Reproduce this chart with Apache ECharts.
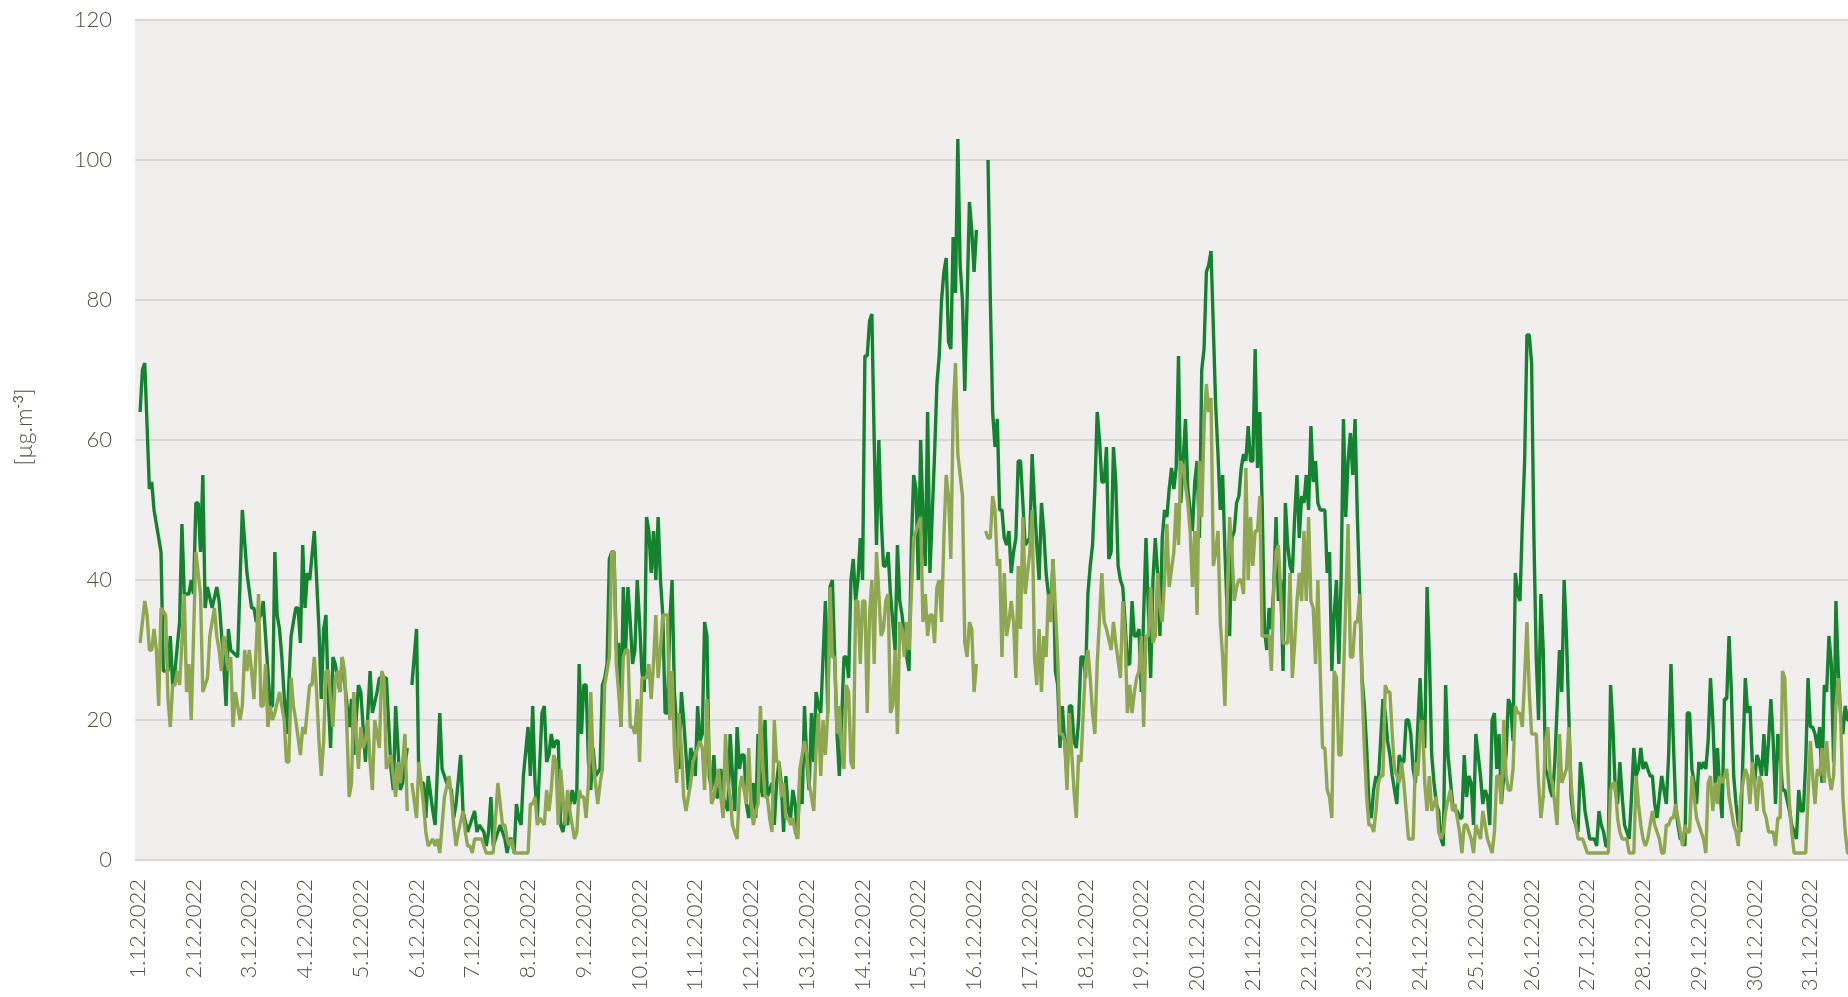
<!DOCTYPE html>
<html><head><meta charset="utf-8">
<script src="https://cdn.jsdelivr.net/npm/echarts@6/dist/echarts.min.js"></script>
<style>html,body{margin:0;padding:0;background:#fff;}#chart{width:1848px;height:997px;}</style>
</head><body><div id="chart"></div>
<script>
// Day tick labels (one per day, at hour 0 of each day)
const dayLabels = ['1.12.2022','2.12.2022','3.12.2022','4.12.2022','5.12.2022','6.12.2022','7.12.2022','8.12.2022','9.12.2022','10.12.2022','11.12.2022','12.12.2022','13.12.2022','14.12.2022','15.12.2022','16.12.2022','17.12.2022','18.12.2022','19.12.2022','20.12.2022','21.12.2022','22.12.2022','23.12.2022','24.12.2022','25.12.2022','26.12.2022','27.12.2022','28.12.2022','29.12.2022','30.12.2022','31.12.2022'];
const yTicks = [0, 20, 40, 60, 80, 100, 120];
const yTitle = '[µg.m{sup|-3}]';

// [hour since 1.12.2022 00:00, value]  (null = gap in the record)
const darkGreen = [[1,64],[2,70],[3,71],[5,53],[6,54],[7,50],[8,48],[10,44],[11,27],[13,27],[14,32],[15,25],[16,27],[18,34],[19,48],[20,38],[22,38],[23,40],[24,38],[25,51],[26,51],[27,44],[28,55],[29,36],[30,39],[32,36],[34,39],[35,37],[37,28],[38,22],[39,33],[40,30],[43,29],[45,50],[47,41],[49,36],[50,36],[51,34],[53,35],[54,37],[57,22],[58,22],[59,44],[60,35],[61,33],[62,29],[64,18],[66,32],[68,36],[69,36],[70,31],[71,45],[72,36],[73,41],[74,40],
[76,47],[77,40],[78,33],[79,23],[80,33],[81,35],[82,23],[83,16],[84,29],[85,28],[87,24],[88,29],[91,19],[92,23],[93,15],[95,25],[96,24],[98,14],[100,27],[101,21],[103,24],[104,26],[107,26],[109,13],[110,10],[111,22],[113,10],[114,11],[116,16],[117,null],[118,25],[120,33],[121,11],[123,11],[124,6],[125,12],[127,7],[128,5],[130,21],[131,13],[133,11],[135,10],[136,6],[137,8],[139,15],[140,7],[142,4],
[143,5],[145,7],[146,4],[147,5],[149,4],[150,2],[151,4],[152,9],[153,2],[156,5],[157,4],[158,3],[159,1],[160,3],[161,3],[162,1],[163,8],[164,6],[165,5],[166,12],[168,19],[169,12],[170,22],[171,11],[172,6],[174,21],[175,22],[176,14],[177,15],[178,18],[179,16],[180,17],[181,17],[182,5],[183,4],[184,6],[185,5],[186,8],[187,10],[188,8],[189,10],[190,28],[191,18],[192,25],[193,25],[194,14],[195,10],[196,16],[197,12],[199,13],[200,25],[201,26],[202,28],[203,43],[204,44],[205,44],[206,30],[207,31],[208,19],[209,39],[210,30],[211,39],[212,34],[213,28],[214,30],[215,40],[216,34],[217,27],[218,24],[219,49],[220,47],[221,41],[222,47],[223,40],[224,49],[225,40],[226,35],[227,21],[228,21],[229,34],[230,40],[231,24],[232,19],[233,13],[234,24],[235,20],[236,15],[237,10],[238,16],[239,15],[240,12],[241,22],[242,17],[243,18],[244,34],[245,32],[246,12],[247,10],[248,15],[249,9],[250,9],[251,13],[252,9],[253,8],[254,7],[255,18],[256,12],[257,7],[258,19],[259,13],[260,15],[261,15],[262,8],[263,6],[265,11],[266,6],[267,18],[268,11],[269,9],[270,20],[271,9],[273,11],[274,5],[275,11],[276,14],[277,11],[278,4],[279,12],[280,7],[281,6],[282,10],[283,8],[284,3],[285,12],[286,8],[287,22],[288,14],[289,10],[290,21],[291,14],[292,24],[293,22],[294,21],[296,37],[297,21],[298,39],[299,40],[300,29],[301,18],[302,12],[303,20],[304,29],[305,29],[306,26],[307,40],[308,43],[309,37],[310,40],[311,46],[312,40],[313,72],[314,72],[315,77],[316,78],[317,60],[318,45],[319,60],[320,49],[321,42],[322,42],[323,44],[324,38],[325,34],[326,30],[327,45],[328,37],[329,35],[331,29],[332,27],[333,45],[334,55],[335,53],[336,40],[337,60],[338,49],[339,42],[340,64],[341,41],[343,58],[344,68],[345,72],[346,80],[347,84],[348,86],[349,74],[350,73],[351,89],[352,81],[353,103],[354,85],[355,80],[356,67],[357,80],[358,94],[359,90],[360,84],[361,90],[362,null],[366,100],[367,80],[368,64],[369,59],[370,63],[371,50],[372,50],[373,46],[374,45],[375,47],[376,41],[377,44],[378,46],[379,57],[380,57],[381,51],[382,45],[384,46],[385,58],[386,51],[387,45],[388,40],[389,51],[390,47],[391,41],[392,38],[393,36],[394,43],[395,27],[396,25],[397,16],[398,22],[399,17],[400,12],[401,22],[402,22],[403,17],[404,16],[405,20],[406,29],[407,29],[408,26],[409,38],[410,42],[411,45],[412,53],[413,64],[414,60],[415,54],[416,54],[417,59],[418,43],[419,44],[420,59],[421,54],[422,42],[423,40],[424,39],[425,34],[426,28],[427,28],[428,37],[429,32],[430,32],[431,33],[432,24],[434,46],[435,36],[436,26],[437,40],[438,46],[439,41],[440,32],[441,46],[442,50],[443,49],[444,53],[445,56],[446,53],[447,56],[448,72],[449,51],[450,57],[451,63],[452,53],[453,50],[454,47],[455,54],[456,57],[457,46],[458,70],[459,73],[460,84],[461,85],[462,87],[464,65],[465,58],[466,50],[467,55],[468,44],[469,35],[470,32],[471,46],[472,47],[473,51],[474,52],[475,56],[476,58],[477,57],[478,62],[479,57],[480,57],[481,73],[482,56],[483,64],[484,51],[485,33],[486,30],[487,36],[488,33],[489,39],[490,49],[491,37],[492,40],[493,27],[494,51],[495,45],[496,42],[497,41],[498,49],[499,55],[500,46],[501,52],[502,51],[503,55],[504,50],[505,62],[506,54],[507,57],[508,51],[509,50],[510,50],[511,50],[512,41],[513,44],[514,27],[515,35],[516,40],[517,28],[518,40],[519,63],[520,49],[521,57],[522,61],[523,55],[524,63],[525,49],[526,38],[527,26],[528,22],[529,16],[530,8],[531,6],[532,10],[533,12],[534,11],[535,17],[536,23],[537,21],[538,17],[539,15],[540,12],[542,8],[543,15],[544,14],[545,14],[546,20],[547,20],[548,18],[549,13],[550,11],[551,19],[552,26],[553,18],[554,16],[555,39],[556,29],[557,15],[558,11],[559,8],[560,7],[561,3],[562,2],[563,25],[564,15],[566,8],[567,7],[568,7],[569,6],[570,6],[571,15],[572,9],[573,12],[574,11],[575,5],[576,18],[578,12],[579,8],[580,10],[581,9],[582,5],[583,20],[584,21],[585,13],[586,18],[587,8],[588,12],[589,15],[590,23],[591,22],[592,17],[593,41],[594,38],[595,37],[596,48],[597,57],[598,75],[599,75],[600,71],[601,46],[602,29],[603,20],[604,38],[605,30],[606,13],[607,12],[608,10],[609,9],[610,14],[611,22],[612,30],[613,24],[614,40],[615,32],[616,21],[617,9],[618,6],[619,5],[620,4],[621,14],[622,11],[623,7],[624,5],[625,3],[627,3],[628,2],[629,7],[630,5],[631,4],[632,2],[633,2],[634,25],[635,19],[636,10],[637,8],[638,14],[639,9],[640,5],[641,4],[642,3],[643,9],[644,16],[645,12],[646,13],[647,16],[648,13],[649,14],[650,13],[651,12],[652,12],[653,8],[654,6],[655,9],[656,12],[657,10],[658,8],[659,15],[660,28],[661,17],[662,8],[663,5],[664,3],[665,3],[666,2],[667,21],[668,21],[669,13],[670,11],[671,8],[672,14],[673,13],[674,14],[675,13],[676,17],[677,26],[678,20],[679,11],[680,16],[681,10],[682,6],[683,23],[684,23],[685,32],[686,24],[687,12],[688,8],[689,5],[690,4],[692,26],[693,21],[694,22],[695,14],[696,11],[697,15],[698,14],[699,12],[700,18],[701,12],[702,17],[703,23],[704,17],[705,8],[706,18],[707,15],[708,10],[709,10],[711,7],[712,5],[713,4],[714,3],[715,10],[716,7],[717,7],[718,14],[719,26],[720,19],[721,19],[722,18],[723,16],[724,19],[725,11],[726,25],[727,24],[728,32],[729,28],[730,14],[731,37],[732,27],[733,21],[734,18],[735,22],[736,20],[737,20]];

const oliveGreen = [[1,31],[3,37],[4,35],[5,30],[6,30],[7,33],[8,30],[9,22],[10,36],[12,35],[13,23],[14,19],[15,25],[16,25],[17,27],[18,25],[19,31],[20,38],[21,24],[22,28],[23,20],[25,44],[27,38],[28,24],[30,26],[31,32],[33,36],[34,32],[35,30],[36,27],[37,32],[38,30],[39,27],[40,29],[41,19],[42,24],[44,20],[45,22],[46,30],[47,27],[48,30],[49,27],[50,23],[52,38],[53,22],[54,22],[55,28],[56,19],[57,22],[58,20],[59,21],[61,24],[62,22],[63,20],[64,14],[65,14],[66,26],[67,22],[68,20],[70,15],[71,19],[72,18],[74,25],[75,25],[76,29],[77,24],[78,17],[79,12],[80,17],[81,27],[82,27],[84,19],[85,26],[86,27],[87,24],[88,29],[89,27],[90,19],[91,9],[92,11],[93,24],[94,18],[95,13],[96,19],[97,16],[98,17],[99,20],[100,14],[101,10],[102,20],[103,18],[104,16],[105,27],[106,26],[107,13],[109,15],[110,12],[111,9],[112,14],[113,11],[114,14],[115,18],[116,7],[117,null],[118,11],[120,6],[121,14],[122,11],[123,8],[124,4],[125,2],[127,3],[128,2],[129,3],[130,1],[132,9],[134,12],[135,9],[136,5],[137,2],[138,4],[140,7],[141,4],[142,2],[143,2],[144,1],[145,3],[147,3],[148,3],[150,1],[153,1],[155,11],[156,8],[157,5],[158,5],[159,3],[160,2],[161,3],[162,1],[168,1],[169,8],[170,8],[171,9],[172,5],[173,6],[175,5],[176,10],[177,7],[178,10],[179,15],[180,14],[181,5],[182,13],[183,9],[184,5],[185,10],[186,7],[187,5],[188,3],[189,4],[190,10],[191,9],[192,9],[193,6],[194,11],[195,24],[196,14],[198,8],[199,11],[200,13],[201,25],[202,27],[203,29],[204,44],[205,44],[206,28],[207,24],[208,19],[209,29],[210,30],[211,30],[212,19],[213,19],[214,18],[215,23],[216,14],[217,26],[218,26],[219,26],[220,28],[221,23],[222,28],[223,35],[224,26],[225,30],[226,35],[228,35],[229,20],[230,27],[231,16],[232,11],[233,21],[234,16],[235,9],[236,7],[237,9],[238,11],[239,14],[241,16],[242,17],[243,16],[244,10],[245,23],[246,15],[247,8],[248,9],[250,13],[251,9],[252,6],[253,18],[254,11],[255,9],[256,5],[257,4],[258,3],[259,10],[260,12],[261,10],[262,8],[263,16],[264,8],[265,5],[266,7],[267,8],[268,22],[269,14],[270,9],[271,9],[272,6],[273,4],[274,20],[275,14],[276,14],[277,9],[278,11],[279,6],[280,6],[281,5],[282,6],[283,4],[284,3],[285,13],[287,17],[288,15],[289,11],[290,9],[291,7],[292,16],[293,21],[294,12],[295,20],[296,15],[297,21],[298,39],[299,29],[300,29],[301,18],[302,22],[303,16],[304,13],[305,25],[306,24],[307,14],[308,13],[309,37],[310,37],[311,28],[312,37],[313,37],[314,21],[315,35],[316,40],[317,28],[318,44],[319,38],[320,32],[321,33],[322,37],[323,38],[324,21],[325,22],[326,30],[327,18],[328,34],[329,33],[330,29],[331,34],[332,30],[333,38],[334,46],[335,47],[336,48],[337,49],[338,34],[339,38],[340,32],[341,35],[342,35],[343,31],[344,39],[345,40],[346,34],[347,46],[348,55],[349,52],[350,43],[351,64],[352,71],[353,58],[355,52],[356,31],[357,29],[358,34],[359,33],[360,24],[361,28],[362,null],[365,47],[366,46],[367,46],[368,52],[369,50],[370,42],[371,43],[372,29],[373,41],[374,32],[375,34],[376,37],[377,34],[378,26],[379,42],[380,33],[381,49],[382,38],[384,44],[385,50],[386,29],[387,25],[388,33],[389,24],[390,32],[391,29],[392,38],[393,34],[394,43],[395,36],[396,29],[397,18],[398,18],[399,17],[400,10],[401,21],[403,10],[404,6],[405,15],[406,14],[408,28],[409,30],[410,26],[411,21],[412,18],[413,28],[415,41],[416,34],[417,33],[419,30],[420,34],[421,31],[423,26],[424,37],[425,32],[426,21],[427,25],[428,21],[429,24],[430,26],[431,27],[432,32],[433,19],[434,32],[435,32],[436,39],[437,31],[438,32],[439,41],[440,36],[441,34],[442,40],[443,48],[444,39],[446,44],[447,51],[448,45],[449,57],[450,56],[452,51],[453,47],[454,39],[455,47],[456,35],[457,57],[458,49],[459,62],[460,68],[461,64],[462,66],[463,42],[464,44],[465,47],[466,34],[467,29],[468,22],[469,38],[470,49],[471,44],[472,37],[473,39],[474,40],[475,40],[476,38],[477,56],[478,40],[479,49],[480,42],[481,47],[482,47],[483,52],[484,32],[485,32],[487,32],[488,27],[489,39],[490,44],[491,45],[493,31],[495,31],[496,41],[497,26],[498,31],[499,37],[500,41],[501,37],[502,47],[503,37],[504,49],[505,37],[506,36],[507,28],[508,40],[509,27],[510,16],[511,16],[512,10],[513,9],[514,6],[515,27],[516,26],[517,15],[518,15],[520,37],[521,48],[522,29],[523,29],[524,34],[525,34],[526,38],[527,25],[528,16],[529,9],[530,5],[531,5],[532,4],[533,7],[534,11],[535,12],[536,12],[537,25],[538,24],[539,24],[540,18],[541,13],[543,11],[544,14],[545,11],[546,7],[547,3],[549,3],[550,14],[551,12],[552,18],[553,20],[554,11],[555,7],[556,12],[557,7],[559,9],[560,4],[561,3],[562,4],[563,7],[565,10],[566,7],[567,8],[568,6],[569,4],[570,1],[571,5],[572,5],[574,3],[575,1],[576,5],[577,4],[578,3],[579,7],[580,5],[581,3],[582,2],[583,1],[584,4],[585,12],[586,12],[587,8],[588,20],[589,12],[590,10],[591,10],[592,13],[593,22],[594,21],[595,21],[596,19],[597,26],[598,34],[599,24],[600,18],[601,18],[602,18],[603,11],[604,6],[605,9],[606,17],[607,19],[608,12],[609,11],[610,8],[611,5],[612,18],[613,11],[614,12],[615,13],[616,19],[617,11],[618,7],[619,5],[620,3],[621,3],[622,3],[623,2],[624,1],[633,1],[634,10],[635,11],[636,11],[637,6],[638,4],[639,3],[640,3],[641,3],[642,1],[644,1],[645,12],[646,8],[647,5],[648,3],[649,2],[650,3],[651,5],[652,7],[653,5],[654,4],[655,3],[656,1],[657,1],[658,5],[659,5],[660,6],[661,6],[662,8],[663,6],[664,4],[665,2],[666,5],[667,4],[668,4],[669,12],[670,9],[671,6],[672,5],[673,4],[674,3],[675,1],[676,11],[677,12],[678,7],[679,11],[680,8],[681,12],[682,11],[683,12],[684,13],[685,9],[686,7],[687,5],[688,4],[689,2],[690,9],[691,11],[692,13],[693,12],[694,8],[695,14],[696,11],[697,7],[698,12],[699,11],[700,7],[701,6],[702,4],[703,4],[704,4],[705,2],[706,6],[707,6],[708,27],[709,26],[710,15],[711,8],[712,4],[713,1],[718,1],[719,9],[720,17],[721,12],[722,8],[723,13],[724,12],[725,16],[726,11],[727,17],[728,12],[729,10],[730,12],[731,22],[732,26],[733,21],[734,9],[735,4],[736,1],[737,1]];

const textColor = '#4d5043';
const fontFamily = 'Lato, "Open Sans", sans-serif';

const chart = echarts.init(document.getElementById('chart'), null, {renderer: 'canvas'});
chart.setOption({
  animation: false,
  backgroundColor: '#ffffff',
  grid: {left: 135, right: 0, top: 20, bottom: 137, show: true, backgroundColor: '#f0efee', borderWidth: 0},
  xAxis: {
    type: 'value', min: -1.2, max: 736.2,
    axisLine: {show: false}, axisTick: {show: false}, splitLine: {show: false},
    axisLabel: {
      customValues: dayLabels.map((d, i) => i * 24),
      formatter: v => dayLabels[Math.round(v / 24)] || '',
      rotate: 90, margin: 19, color: textColor, fontSize: 22, fontFamily: fontFamily, fontWeight: 300
    }
  },
  yAxis: {
    type: 'value', min: yTicks[0], max: yTicks[yTicks.length - 1], interval: 20,
    axisLine: {show: false}, axisTick: {show: false},
    splitLine: {show: true, lineStyle: {color: '#d9d8d6', width: 2}},
    axisLabel: {margin: 23, color: textColor, fontSize: 22, fontFamily: fontFamily, fontWeight: 300}
  },
  graphic: [{
    type: 'text', x: 25, y: 427, rotation: Math.PI / 2, silent: true,
    style: {
      text: yTitle, fill: textColor, fontSize: 23, fontFamily: fontFamily, fontWeight: 300,
      align: 'center', verticalAlign: 'middle', lineHeight: 28,
      rich: {sup: {fontSize: 14, fontFamily: fontFamily, fill: textColor, verticalAlign: 'top', lineHeight: 16}}
    }
  }],
  series: [
    {type: 'line', data: darkGreen, showSymbol: false, connectNulls: false, clip: true,
     lineStyle: {color: '#13832f', width: 3.4}, itemStyle: {color: '#13832f'}},
    {type: 'line', data: oliveGreen, showSymbol: false, connectNulls: false, clip: true,
     lineStyle: {color: '#8ea750', width: 3.4}, itemStyle: {color: '#8ea750'}}
  ]
});
</script></body></html>
